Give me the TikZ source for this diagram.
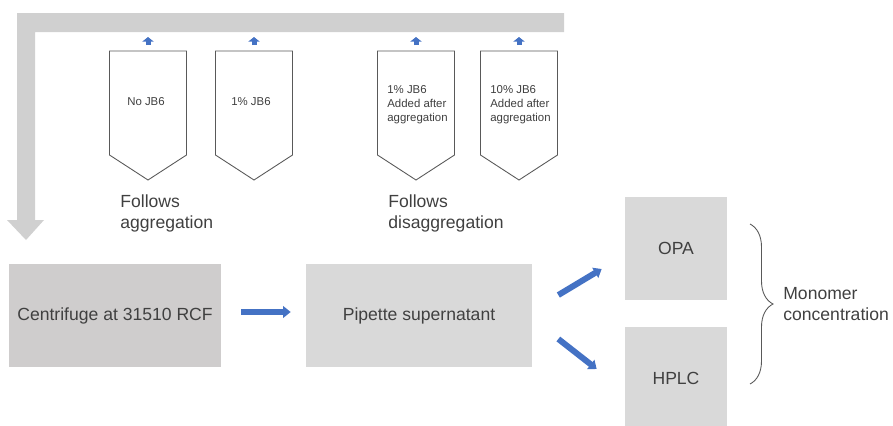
\documentclass[tikz,border=0pt]{standalone}
\usepackage{fontspec}
\setmainfont{Liberation Sans}
\usepackage{xcolor}
\usetikzlibrary{arrows.meta,calc,decorations.pathreplacing,positioning}
\definecolor{bandgray}{HTML}{D0D0D0}
\definecolor{centgray}{HTML}{CFCDCD}
\definecolor{boxgray}{HTML}{D9D9D9}
\definecolor{linegray}{HTML}{595959}
\definecolor{textgray}{HTML}{404040}
\definecolor{flowblue}{HTML}{4472C4}
\newcommand{\bigtxt}{\fontsize{10}{12}\selectfont}
\newcommand{\smalltxt}{\fontsize{6.5}{8}\selectfont}
\tikzset{
  box/.style={fill=boxgray,inner sep=0pt,text=textgray,font=\bigtxt},
  tube/.style={draw=linegray,line width=0.5pt,fill=white},
  small/.style={inner sep=0pt,text=textgray,font=\smalltxt},
  bigtext/.style={inner sep=0pt,text=textgray,font=\bigtxt},
  flow/.style={draw=flowblue,line width=0.12cm,-{Triangle[width=0.23cm,length=0.15cm]}},
  uparrow/.style={draw=flowblue,line width=0.1cm,-{Triangle[width=0.22cm,length=0.09cm]}},
  curly/.style={draw=linegray,line width=0.5pt,decorate,decoration={brace,amplitude=0.46cm}}
}

\begin{document}
\begin{tikzpicture}[x=0.02cm,y=-0.02cm]
  \useasboundingbox (0,0) rectangle (893,426);
  % return band
  \fill[bandgray] (17,13) -- (564,13) -- (564,32) -- (35,32) -- (35,220)
    -- (44,220) -- (26,240) -- (7,220) -- (17,220) -- cycle;
  % tubes
  \foreach \n/\x in {a/148,b/254,c/416,d/519}{
    \draw[tube] (\x-38.5,51) -- (\x+38.5,51) -- (\x+38.5,155) -- (\x,180)
      -- (\x-38.5,155) -- cycle;
    \coordinate (tube\n) at (\x,51);
    \draw[uparrow] ([yshift=0.12cm]tube\n) -- ++(0,-8);
  }
  \node[small] (la) at (146,102) {No JB6};
  \node[small] (lb) at (251,102) {1\% JB6};
  \node[small,anchor=west,align=left] (lc) at (387,105) {1\% JB6\\Added after\\aggregation};
  \node[small,anchor=west,align=left] (ld) at (490,105) {10\% JB6\\Added after\\aggregation};
  \node[bigtext,anchor=west,align=left] (agg) at (120,213.5) {Follows\\aggregation};
  \node[bigtext,anchor=west,align=left] (disagg) at (388,213.5) {Follows\\disaggregation};
  % steps
  \node[box,fill=centgray,minimum width=4.23cm,minimum height=2.06cm] (cent) at (115,315.5) {Centrifuge at 31510 RCF};
  \node[box,minimum width=4.52cm,minimum height=2.06cm] (pipe) at (419,315.5) {Pipette supernatant};
  \node[box,minimum width=2.04cm,minimum height=2.06cm] (opa) at (676,248.5) {OPA};
  \node[box,minimum width=2.04cm,minimum height=2.06cm] (hplc) at (676,378) {HPLC};
  \draw[flow] ([xshift=0.4cm,yshift=0.07cm]cent.east) -- ([xshift=-0.3cm,yshift=0.07cm]pipe.west);
  \draw[flow] ([xshift=0.52cm,yshift=0.41cm]pipe.east) -- ([xshift=-0.46cm,yshift=-0.41cm]opa.west);
  \draw[flow] ([xshift=0.52cm,yshift=-0.47cm]pipe.east) -- ([xshift=-0.56cm,yshift=0.18cm]hplc.west);
  % brace
  \coordinate (btop) at (750,224);
  \coordinate (bbot) at (750,384);
  \draw[curly] (btop) -- (bbot);
  \node[bigtext,anchor=west,align=left] (mono) at (783,304) {Monomer\\concentration};
\end{tikzpicture}
\end{document}
